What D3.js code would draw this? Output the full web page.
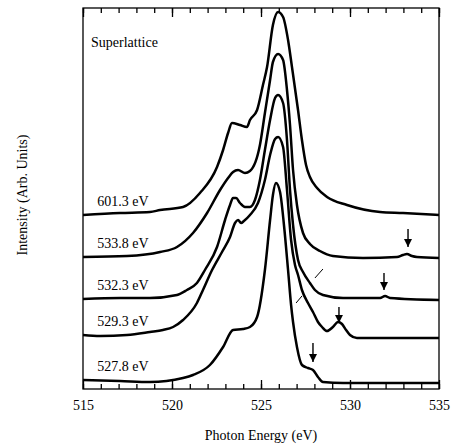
<!DOCTYPE html>
<html>
<head>
<meta charset="utf-8">
<script src="https://cdn.jsdelivr.net/npm/d3@7"></script>
<style>
  body { margin: 0; background: #fff; }
  text { font-family: "Liberation Serif", "Times New Roman", serif; fill: #000; }
</style>
</head>
<body>
<div class="chart"></div>
<script>
// spectra: [photon energy (eV), intensity (arb. units, offset included)]
var labels = ["601.3 eV", "533.8 eV", "532.3 eV", "529.3 eV", "527.8 eV"];

var s6013 = [[515,174],[517.08,176],[518.76,177],[519.33,179],[520.62,182],[521.57,196],[522.53,222],[522.87,239],
  [523.15,256],[523.37,266],[523.82,264],[524.21,262],[524.38,269],[524.78,279],[525.11,304],[525.34,322],
  [525.67,364],[525.96,377],[526.24,372],[526.52,349],[526.74,322],[527.08,279],[527.30,249],[527.53,224],
  [527.75,212],[528.15,201],[528.71,192],[529.83,184],[531.69,177],[532.98,176],[535,174]];
var s5338 = [[515,132],[517.47,133],[519.33,137],[520.28,142],[521.18,156],[521.97,176],[522.70,199],[523.15,211],
  [523.43,217],[523.71,219],[524.10,216],[524.38,218],[524.94,244],[525.22,276],[525.51,309],[525.67,327],
  [525.96,335],[526.24,329],[526.46,299],[526.63,264],[526.80,219],[527.02,184],[527.36,156],[527.75,145],
  [528.31,138],[529.04,133],[530.73,131],[532.64,132],[532.98,134],[533.20,135],[533.48,133],[533.76,132],[535,131]];
var s5323 = [[515,90],[517.08,91],[518.76,91],[520.28,94],[520.84,99],[521.40,106],[521.85,119],[522.53,142],
  [522.98,169],[523.26,184],[523.43,191],[523.60,191],[523.82,186],[524.10,182],[524.38,182],[524.66,189],
  [524.94,209],[525.22,239],[525.51,269],[525.79,291],[525.96,294],[526.24,286],[526.46,249],[526.63,199],
  [526.80,164],[527.08,129],[527.36,117],[527.75,106],[528.03,99],[528.48,94],[529.61,91],[531.69,91],
  [531.97,93],[532.25,91],[535,89]];
var s5293 = [[515,54],[515.96,53],[517.47,54],[518.76,57],[519.49,59],[520.06,62],[520.62,69],[521.40,86],
  [521.74,99],[522.25,119],[522.81,137],[523.26,152],[523.54,166],[523.71,169],[523.88,166],[524.04,168],
  [524.38,174],[524.83,186],[525.22,209],[525.51,234],[525.79,250],[525.96,252],[526.24,242],[526.46,199],
  [526.69,149],[526.91,124],[527.08,114],[527.30,99],[527.64,86],[527.92,77],[528.20,67],[528.43,62],
  [528.71,58],[529.04,62],[529.33,67],[529.55,65],[529.78,59],[530.00,54],[530.39,51],[531.69,51],[535,51]];
var s5278 = [[515,9],[517.08,8],[518.76,7],[520.62,11],[521.18,14],[522.13,24],[522.87,42],[523.43,59],
  [523.99,60],[524.38,62],[524.78,72],[525.22,119],[525.51,169],[525.67,194],[525.84,206],[526.07,197],
  [526.29,164],[526.52,119],[526.69,84],[526.80,67],[527.02,42],[527.30,24],[527.64,21],[527.92,19],
  [528.20,12],[528.48,7],[529.61,6],[531.69,6],[535,6]];
var spectra = [s6013, s5338, s5323, s5293, s5278];

// arrows: [energy, intensity from, intensity to]
var arrows = [[533.26,160,142],[531.91,116,99],[529.38,82,66],[527.92,46,27]];
// short slash marks: [e1, i1, e2, i2]
var slashes = [[528.03,111,528.48,120],[526.97,86,527.30,93]];

var majorTicks = d3.range(515, 536, 5);
var minorTicks = d3.range(515, 536, 1);

var width = 453, height = 447;
var mLeft = 83, mRight = 439, mTop = 8, mBottom = 389;

var x = d3.scaleLinear().domain([515, 535]).range([mLeft, mRight]);
var y = d3.scaleLinear().domain([0, 381]).range([mBottom, mTop]);

var svg = d3.select(".chart").append("svg")
  .attr("width", width).attr("height", height);

svg.append("defs").append("marker")
  .attr("id", "head")
  .attr("markerUnits", "userSpaceOnUse")
  .attr("viewBox", "0 0 10 10")
  .attr("refX", 10).attr("refY", 5)
  .attr("markerWidth", 9).attr("markerHeight", 8)
  .attr("orient", "auto")
  .append("path").attr("d", "M0,0 L10,5 L0,10 Z").attr("fill", "#000");

// frame
svg.append("rect")
  .attr("x", mLeft).attr("y", mTop)
  .attr("width", mRight - mLeft).attr("height", mBottom - mTop)
  .attr("fill", "none").attr("stroke", "#000").attr("stroke-width", 1.3);

// ticks (inward)
function tickAxis(axis, size, vals, fmt) {
  return axis.tickValues(vals).tickSize(size).tickSizeOuter(0).tickFormat(fmt);
}
var gb = svg.append("g").attr("transform", "translate(0," + mBottom + ")");
gb.call(tickAxis(d3.axisBottom(x), -5, minorTicks, ""));
var gb2 = svg.append("g").attr("transform", "translate(0," + mBottom + ")");
gb2.call(tickAxis(d3.axisBottom(x), -9, majorTicks, d3.format("d")).tickPadding(11));
var gt = svg.append("g").attr("transform", "translate(0," + mTop + ")");
gt.call(tickAxis(d3.axisTop(x), -5, minorTicks, ""));
var gt2 = svg.append("g").attr("transform", "translate(0," + mTop + ")");
gt2.call(tickAxis(d3.axisTop(x), -9, majorTicks, ""));
svg.selectAll(".domain").remove();
svg.selectAll(".tick line").attr("stroke", "#000").attr("stroke-width", 1.3);
gb2.selectAll(".tick text")
  .style("font-family", "Liberation Serif, Times New Roman, serif")
  .style("font-size", "14px").attr("fill", "#000");

// spectra
var line = d3.line()
  .x(d => x(d[0])).y(d => y(d[1]))
  .curve(d3.curveMonotoneX);

svg.selectAll("path.spec")
  .data(spectra)
  .enter()
  .append("path")
  .attr("class", "spec")
  .attr("d", line)
  .attr("fill", "none")
  .attr("stroke", "#000")
  .attr("stroke-width", 2.5)
  .attr("stroke-linejoin", "round");

// labels
svg.selectAll("text.lab")
  .data(labels)
  .enter()
  .append("text")
  .attr("class", "lab")
  .attr("x", x(515.8))
  .attr("y", (d, i) => y(spectra[i][0][1]) - 9)
  .style("font-size", "14px")
  .text(d => d);

// arrows
svg.selectAll("line.arrow")
  .data(arrows)
  .enter()
  .append("line")
  .attr("class", "arrow")
  .attr("x1", d => x(d[0])).attr("y1", d => y(d[1]))
  .attr("x2", d => x(d[0])).attr("y2", d => y(d[2]))
  .attr("stroke", "#000").attr("stroke-width", 1.4)
  .attr("marker-end", "url(#head)");

svg.selectAll("line.slash")
  .data(slashes)
  .enter()
  .append("line")
  .attr("class", "slash")
  .attr("x1", d => x(d[0])).attr("y1", d => y(d[1]))
  .attr("x2", d => x(d[2])).attr("y2", d => y(d[3]))
  .attr("stroke", "#000").attr("stroke-width", 1);

svg.append("text")
  .attr("x", 91).attr("y", 47)
  .style("font-size", "14px")
  .text("Superlattice");

svg.append("text")
  .attr("x", (mLeft + mRight) / 2).attr("y", 440)
  .attr("text-anchor", "middle")
  .style("font-size", "14px")
  .text("Photon Energy (eV)");

svg.append("text")
  .attr("transform", "translate(27," + 195 + ") rotate(-90)")
  .attr("text-anchor", "middle")
  .style("font-size", "14px")
  .text("Intensity (Arb. Units)");
</script>
</body>
</html>
